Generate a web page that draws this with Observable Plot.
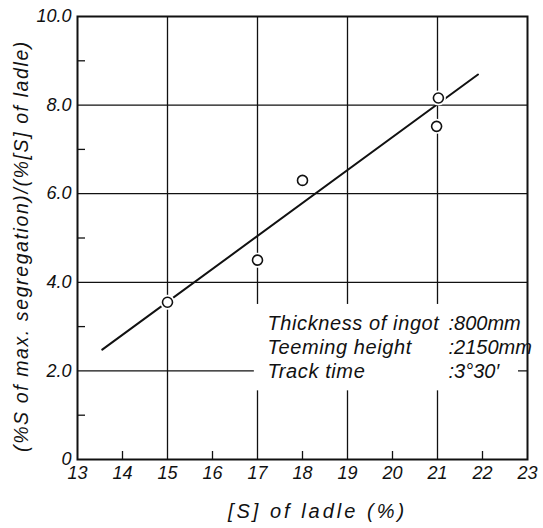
<!DOCTYPE html>
<html>
<head>
<meta charset="utf-8">
<script src="https://cdn.jsdelivr.net/npm/d3@7"></script>
<script src="https://cdn.jsdelivr.net/npm/@observablehq/plot@0.6"></script>
<style>
  html, body { margin: 0; padding: 0; background: #fff; }
  .xlab text { letter-spacing: 3px; }
  .ylab text { letter-spacing: 1.6px; }
  .note text { letter-spacing: 0.6px; }
</style>
</head>
<body>
<div id="chart"></div>
<script>
// ---- data ----
const sLadle = [15.0, 17.0, 18.0, 21.02, 20.98];
const segRatio = [3.55, 4.5, 6.3, 8.16, 7.52];

const fitX = [13.55, 21.9];
const fitY = [2.48, 8.69];

const xTicks = [13, 14, 15, 16, 17, 18, 19, 20, 21, 22, 23];
const xGrid = [15, 17, 19, 21];
const xMinor = [14, 16, 18, 20, 22];
const yTicks = [0, 2, 4, 6, 8, 10];
const yGrid = [2, 4, 6, 8];
const yMinor = [1, 3, 5, 7, 9];

const noteLabels = ["Thickness of ingot", "Teeming height", "Track time"];
const noteValues = [":800mm", ":2150mm", ":3°30′"];
const maskX = [16.93, 22.8];
const maskY = [1.55, 3.5];

const xLabel = "[S] of ladle (%)";
const yLabel = "(%S of max. segregation)/(%[S] of ladle)";

const points = sLadle.map((x, i) => ({x, y: segRatio[i]}));
const fit = fitX.map((x, i) => ({x, y: fitY[i]}));

const font = "'Liberation Sans', 'DejaVu Sans', sans-serif";

const chart = Plot.plot({
  width: 543,
  height: 528,
  marginLeft: 77,
  marginRight: 16,
  marginTop: 16,
  marginBottom: 69,
  x: {domain: [13, 23]},
  y: {domain: [0, 10]},
  style: {fontFamily: font, fontStyle: "italic", fontSize: "18px", color: "#111", background: "white"},
  marks: [
    Plot.gridX(xGrid, {stroke: "#111", strokeOpacity: 1, strokeWidth: 1.3}),
    Plot.gridY(yGrid, {stroke: "#111", strokeOpacity: 1, strokeWidth: 1.3}),
    Plot.rect([0], {x1: maskX[0], x2: maskX[1], y1: maskY[0], y2: maskY[1], fill: "white"}),
    Plot.axisX(xMinor, {tickSize: -8, text: null, label: null, strokeWidth: 1.3}),
    Plot.axisY(yMinor, {tickSize: -8, text: null, label: null, strokeWidth: 1.3}),
    Plot.axisX(xTicks, {tickSize: 0, tickPadding: 7, label: null, fontSize: 18}),
    Plot.axisY(yTicks, {tickSize: 0, tickPadding: 6, label: null, fontSize: 18,
      tickFormat: d => d === 0 ? "0" : d.toFixed(1)}),
    Plot.frame({stroke: "#111", strokeWidth: 2}),
    Plot.line(fit, {x: "x", y: "y", stroke: "#111", strokeWidth: 2}),
    Plot.dot(points, {x: "x", y: "y", r: 5, fill: "white", stroke: "white", strokeWidth: 5}),
    Plot.dot(points, {x: "x", y: "y", r: 5, fill: "white", stroke: "#111", strokeWidth: 1.6}),
    Plot.text([noteLabels.join("\n")], {frameAnchor: "left", dx: 190, dy: 108, textAnchor: "start",
      lineHeight: 1.2, fontSize: 20, className: "note"}),
    Plot.text([noteValues.join("\n")], {frameAnchor: "left", dx: 371, dy: 108, textAnchor: "start",
      lineHeight: 1.2, fontSize: 20}),
    Plot.text([xLabel], {frameAnchor: "bottom", dx: 15, dy: 58, fontSize: 20, className: "xlab"}),
    Plot.text([yLabel], {frameAnchor: "left", dx: -56, dy: 8, rotate: -90, textAnchor: "middle",
      fontSize: 19.5, className: "ylab"})
  ]
});
document.getElementById("chart").append(chart);
</script>
</body>
</html>
